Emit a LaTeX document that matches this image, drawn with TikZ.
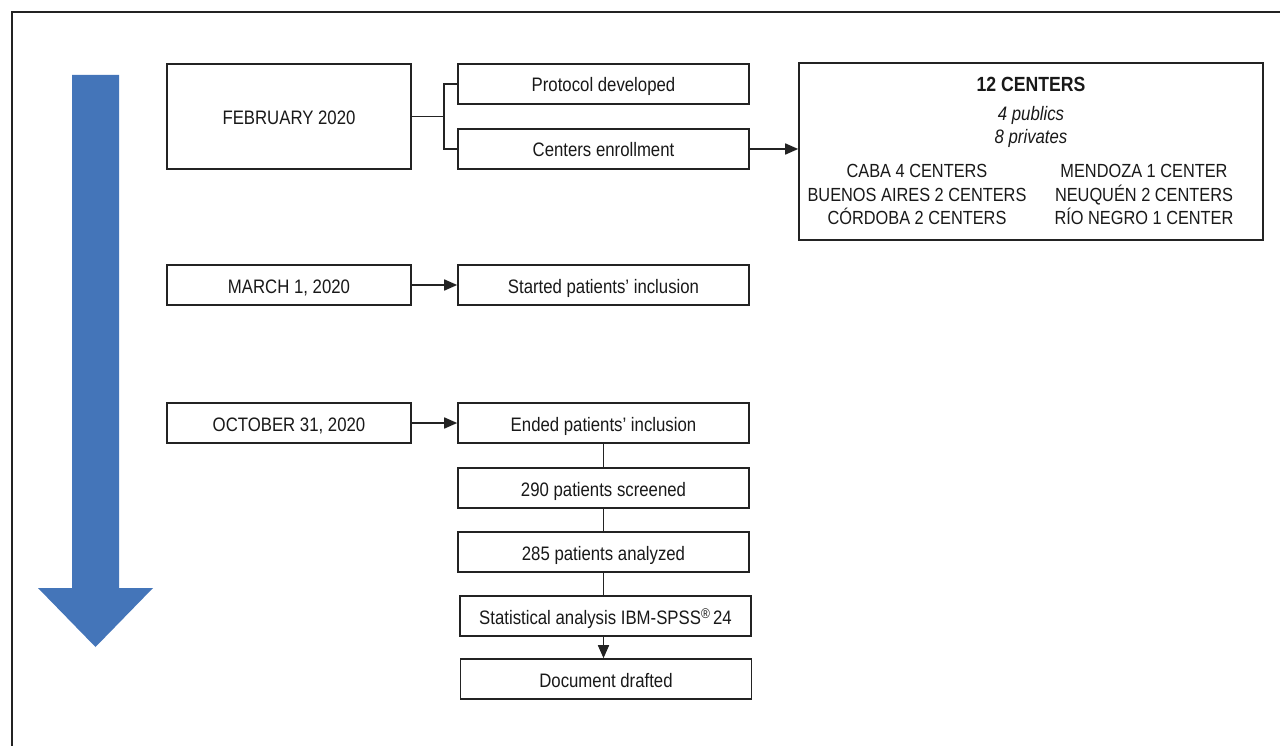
\documentclass[tikz,border=0pt]{standalone}
\usepackage{fontspec}
\setmainfont[FakeStretch=0.86]{Liberation Sans}
\usetikzlibrary{arrows.meta}
\definecolor{arrowblue}{RGB}{68,117,185}
\definecolor{frame}{RGB}{35,35,35}
\definecolor{ink}{RGB}{25,25,25}
\begin{document}
\begin{tikzpicture}[x=1pt,y=-1pt,
  box/.style={draw=frame,line width=1.6pt,minimum height=40pt,inner sep=0pt,
    font=\fontsize{19.5}{23}\selectfont,text=ink,text height=16pt,text depth=0pt},
  wbox/.style={box,minimum width=291pt},
  lbox/.style={box,minimum width=244pt},
  conn/.style={draw=frame,line width=1.6pt},
  arr/.style={conn,-{Triangle[length=13pt,width=11pt]}}]
\useasboundingbox (0,0) rectangle (1280,746);
\fill[white] (0,0) rectangle (1280,746);
% outer frame
\draw[frame,line width=2.6pt] (1300,12) -- (12,12) -- (12,760);
% big arrow
\fill[arrowblue] (72,75) -- (119,75) -- (119,588) -- (153,588) -- (95.5,647) -- (38,588) -- (72,588) -- cycle;
% nodes
\node[lbox,minimum height=105pt] (feb) at (289,116.5) {FEBRUARY 2020};
\node[wbox] (prot) at (603.5,84) {Protocol developed};
\node[wbox] (cent) at (603.5,149) {Centers enrollment};
\node[box,minimum width=464pt,minimum height=177pt] (twelve) at (1031,151.5) {};
\node[text=ink,font=\fontsize{20.5}{24}\bfseries\selectfont] (t12) at (1031,84) {12 CENTERS};
\node[text=ink,font=\fontsize{19.5}{23}\itshape\selectfont,align=center] (pp) at (1031,127) {4 publics\\8 privates};
\node[text=ink,font=\fontsize{19}{23.5}\selectfont,align=center] (colL) at (917,194.5) {CABA 4 CENTERS\\BUENOS AIRES 2 CENTERS\\CÓRDOBA 2 CENTERS};
\node[text=ink,font=\fontsize{19}{23.5}\selectfont,align=center] (colR) at (1144,194.5) {MENDOZA 1 CENTER\\NEUQUÉN 2 CENTERS\\RÍO NEGRO 1 CENTER};
\node[lbox] (mar) at (289,285) {MARCH 1, 2020};
\node[wbox] (start) at (603.5,285) {Started patients' inclusion};
\node[lbox] (oct) at (289,423) {OCTOBER 31, 2020};
\node[wbox] (ended) at (603.5,423) {Ended patients' inclusion};
\node[wbox] (s290) at (603.5,488) {290 patients screened};
\node[wbox] (s285) at (603.5,552) {285 patients analyzed};
\node[wbox] (stat) at (605.5,616) {Statistical analysis IBM-SPSS\raisebox{0.3em}{\fontsize{14}{14}\selectfont\textregistered}\,24};
\node[wbox] (doc) at (606,679) {Document drafted};
% connectors
\coordinate (fork) at (444,116.5);
\draw[conn] (feb.east) -- (fork);
\draw[conn] (fork) |- (prot.west);
\draw[conn] (fork) |- (cent.west);
\draw[arr] (cent.east) -- (twelve.west |- cent.east);
\draw[arr] (mar) -- (start);
\draw[arr] (oct) -- (ended);
\draw[conn] (ended.south) -- (s290.north);
\draw[conn] (s290.south) -- (s285.north);
\draw[conn] (s285.south) -- (s285.south |- stat.north);
\draw[arr] (s285.south |- stat.south) -- (s285.south |- doc.north);
\end{tikzpicture}
\end{document}
